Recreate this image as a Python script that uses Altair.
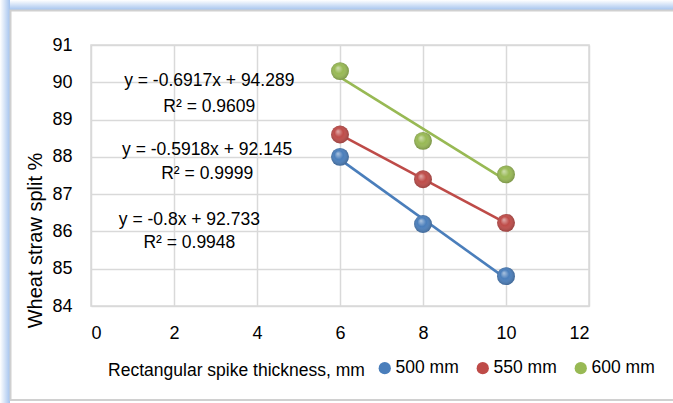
import altair as alt
import pandas as pd

# ---- data ----
thickness = [6, 8, 10]
series_names = ["500 mm", "550 mm", "600 mm"]
split_500 = [88.0, 86.2, 84.8]
split_550 = [88.6, 87.4, 86.23]
split_600 = [90.3, 88.43, 87.53]
colors = ["#4A7EBB", "#BE4B48", "#98B954"]

eq_text = ["y = -0.6917x + 94.289", "R² = 0.9609",
           "y = -0.5918x + 92.145", "R² = 0.9999",
           "y = -0.8x + 92.733", "R² = 0.9948"]
eq_x = [2.85, 2.85, 2.8, 2.8, 2.37, 2.37]
eq_y = [90.04, 89.35, 88.19, 87.54, 86.31, 85.69]

x_ticks = [0, 2, 4, 6, 8, 10, 12]
y_ticks = [84, 85, 86, 87, 88, 89, 90, 91]

rows = []
for name, vals in zip(series_names, [split_500, split_550, split_600]):
    for t, v in zip(thickness, vals):
        rows.append({"thickness": t, "split": v, "series": name})
df = pd.DataFrame(rows)
eq_df = pd.DataFrame({"text": eq_text, "thickness": eq_x, "split": eq_y})

FONT = "Liberation Sans"
W, H = 498, 261
PL, PT = 91, 45

xs = alt.Scale(domain=[0, 12], nice=False)
ys = alt.Scale(domain=[84, 91], nice=False, zero=False)
color = alt.Color("series:N", scale=alt.Scale(domain=series_names, range=colors),
                  legend=alt.Legend(title=None, orient="none", legendX=285, legendY=314,
                                    direction="horizontal", symbolType="circle",
                                    symbolSize=150, symbolStrokeWidth=0,
                                    labelFontSize=17.5, labelFont=FONT, labelOffset=2,
                                    columnPadding=15, labelColor="#000"))

x_axis = alt.Axis(values=x_ticks, title="Rectangular spike thickness, mm",
                  titleX=145, titleY=64, titleAlign="center", titleBaseline="middle",
                  titleFontSize=17.5, titleFontWeight="normal", titleFont=FONT,
                  labelFontSize=18, labelFont=FONT, labelPadding=18, labelOverlap=False,
                  domain=False, ticks=False, grid=True, gridColor="#d9d9d9",
                  gridWidth=1.5, labelColor="#000", titleColor="#000")
y_axis = alt.Axis(values=y_ticks, title="Wheat straw split %",
                  titleX=-56, titleY=195, titleAlign="center", titleBaseline="middle",
                  titleAngle=270, titleFontSize=20, titleFontWeight="normal",
                  titleFont=FONT, labelFontSize=18, labelFont=FONT, labelPadding=19,
                  labelOverlap=False, domain=False, ticks=False, grid=True,
                  gridColor="#d9d9d9", gridWidth=1.5, labelColor="#000", titleColor="#000")
x_enc = alt.X("thickness:Q", scale=xs, axis=x_axis)
y_enc = alt.Y("split:Q", scale=ys, axis=y_axis)

base = alt.Chart(df)

points = base.mark_point(filled=True, size=320, opacity=1).encode(x=x_enc, y=y_enc, color=color)

shine = base.mark_point(filled=True, size=320, opacity=1,
                        fill=alt.RadialGradient(
                            gradient="radial", x1=0.38, y1=0.32, r1=0.0,
                            x2=0.5, y2=0.5, r2=0.55,
                            stops=[alt.GradientStop(offset=0, color="rgba(255,255,255,0.55)"),
                                   alt.GradientStop(offset=0.45, color="rgba(255,255,255,0.0)"),
                                   alt.GradientStop(offset=1, color="rgba(0,0,0,0.28)")])
                        ).encode(x=x_enc, y=y_enc)

lines = base.transform_regression("thickness", "split", groupby=["series"],
                                  method="linear", extent=[6, 10]).mark_line(
    strokeWidth=2.6).encode(x=x_enc, y=y_enc, color=color)

labels = alt.Chart(eq_df).mark_text(fontSize=17.5, font=FONT, color="#000",
                                    align="center", baseline="middle").encode(
    x=x_enc, y=y_enc, text="text:N")

one = alt.Data(values=[{"k": 1}])
glow_top = alt.Chart(one).mark_rect(
    fill=alt.LinearGradient(gradient="linear", x1=0, y1=0, x2=0, y2=1,
                            stops=[alt.GradientStop(offset=0, color="#ffffff"),
                                   alt.GradientStop(offset=1, color="#a4c3ee")])).encode(
    x=alt.value(-PL), x2=alt.value(673 - PL), y=alt.value(-PT), y2=alt.value(10 - PT))
glow_left = alt.Chart(one).mark_rect(
    fill=alt.LinearGradient(gradient="linear", x1=0, y1=0, x2=1, y2=0,
                            stops=[alt.GradientStop(offset=0, color="#ffffff"),
                                   alt.GradientStop(offset=1, color="#a4c3ee")])).encode(
    x=alt.value(-PL), x2=alt.value(10 - PL), y=alt.value(-PT), y2=alt.value(403 - PT))
frame = alt.Chart(one).mark_rect(fill="transparent", fillOpacity=0, stroke="#d0d0d0",
                                 strokeWidth=2).encode(
    x=alt.value(10.5 - PL), x2=alt.value(700 - PL), y=alt.value(10.5 - PT), y2=alt.value(400 - PT))

chart = alt.layer(glow_top, glow_left, frame, lines, points, shine, labels).properties(
    width=W, height=H, padding={"left": PL, "top": PT, "right": 673 - PL - W, "bottom": 403 - PT - H},
    autosize=alt.AutoSizeParams(type="none"), background="white"
).configure_view(stroke="#d9d9d9", strokeWidth=1.5)

chart.save("out.html", embed_options={"renderer": "svg", "actions": False})
